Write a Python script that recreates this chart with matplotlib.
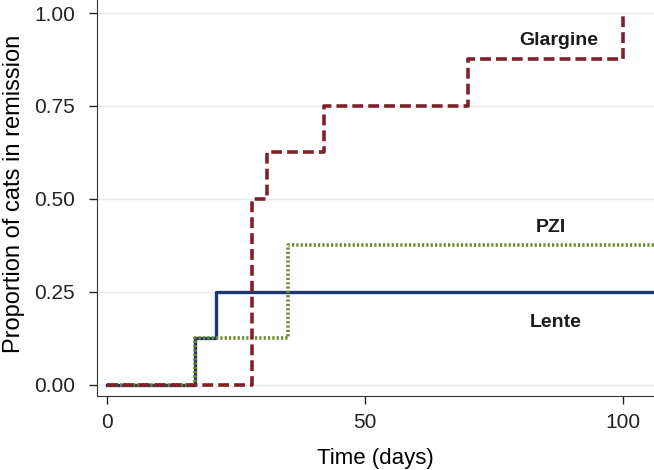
import numpy as np
import matplotlib
matplotlib.use("Agg")
import matplotlib.pyplot as plt

plt.rcParams['font.family'] = ['Liberation Sans', 'DejaVu Sans']

# Kaplan-Meier style steps
glargine_t = [0, 28, 31, 42, 70, 100]
glargine_p = [0.0, 0.5, 0.625, 0.75, 0.875, 1.0]
lente_t = [0, 17, 21, 106]
lente_p = [0.0, 0.125, 0.25, 0.25]
pzi_t = [0, 17, 35, 106]
pzi_p = [0.0, 0.125, 0.375, 0.375]

yticks = [0.0, 0.25, 0.5, 0.75, 1.0]
xticks = [0, 50, 100]

fig = plt.figure(figsize=(6.54, 4.70), dpi=100)
ax = fig.add_axes([97/654, 1-396/470, 1-97/654, 396/470])

for y in yticks:
    ax.axhline(y, color='#e2ecec', lw=1.0, zorder=0)

ax.step(lente_t, lente_p, where='post', color='#1f3770', lw=2.4, zorder=2)
ax.step(pzi_t, pzi_p, where='post', color='#6b8a2a', lw=2.6, ls=(0, (0.6, 0.6)), zorder=3)
ax.step(glargine_t, glargine_p, where='post', color='#7f2128', lw=2.6, ls=(0, (3.0, 1.4)), zorder=4)

ax.text(87.5, 0.927, 'Glargine', ha='center', va='center', fontsize=14, fontweight='bold', color='#1a1a1a')
ax.text(86, 0.422, 'PZI', ha='center', va='center', fontsize=14, fontweight='bold', color='#1a1a1a')
ax.text(87, 0.167, 'Lente', ha='center', va='center', fontsize=14, fontweight='bold', color='#1a1a1a')

ax.set_xlim(-2, 106)
ax.set_ylim(-0.03, 1.035)
ax.set_xticks(xticks)
ax.set_yticks(yticks)
ax.set_yticklabels(['%.2f' % v for v in yticks])
ax.tick_params(direction='out', length=6, width=1, labelsize=15, colors='#222222')
ax.tick_params(axis='y', pad=10)
ax.tick_params(axis='x', pad=6)
ax.spines['top'].set_visible(False)
ax.spines['right'].set_visible(False)
ax.spines['left'].set_color('#333333')
ax.spines['bottom'].set_color('#333333')

ax.set_xlabel('Time (days)', fontsize=16, labelpad=12)
ax.set_ylabel('Proportion of cats in remission', fontsize=17)
ax.yaxis.set_label_coords(-0.13, 0.51)

fig.savefig('out.png', dpi=100)
